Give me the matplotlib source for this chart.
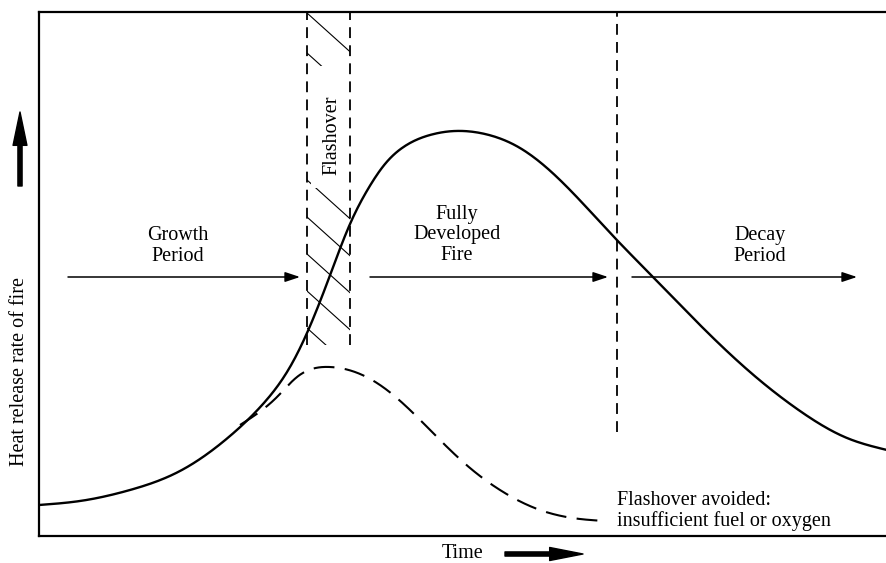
import numpy as np
import matplotlib
matplotlib.use("Agg")
import matplotlib.pyplot as plt

plt.rcParams['font.family'] = ['Liberation Serif', 'DejaVu Serif']

# ---- data (time units, heat-release units) ----
main_t = [0, 41, 91, 141, 191, 224, 251, 268, 290, 311, 329, 346, 366, 391,
          416, 446, 481, 521, 575, 614, 661, 711, 761, 808, 848]
main_h = [31, 35, 46, 65, 100, 132, 169, 203, 258, 312, 347, 372, 390, 401,
          405, 402, 388, 356, 299, 259, 211, 164, 125, 98, 86]

avoid_t = [201, 238, 258, 291, 316, 341, 371, 401, 431, 461, 501, 541, 566]
avoid_h = [111, 139, 159, 169, 164, 151, 126, 96, 68, 46, 26, 17, 15]

flash_start, flash_end, flash_bottom = 268, 311, 191
decay_start, decay_bottom = 578, 104
hatch_starts = [523, 483, 356, 319, 282, 245, 208]  # h at left edge of band
hatch_slope = -0.9
label_gap = (348, 470)  # band section kept clear for the "Flashover" label

phase_labels = ["Growth\nPeriod", "Fully\nDeveloped\nFire", "Decay\nPeriod"]
phase_label_t = [139, 418, 721]
phase_label_h = [290, 301, 290]
phase_arrows = [(29, 261), (331, 569), (593, 818)]
arrow_h = 259

T_MAX, H_MAX = 848, 524


def spline(x, y, n=600):
    x = np.asarray(x, float)
    y = np.asarray(y, float)
    m = len(x)
    h = np.diff(x)
    A = np.zeros((m, m))
    b = np.zeros(m)
    A[0, 0] = A[-1, -1] = 1
    for i in range(1, m - 1):
        A[i, i - 1] = h[i - 1]
        A[i, i] = 2 * (h[i - 1] + h[i])
        A[i, i + 1] = h[i]
        b[i] = 3 * ((y[i + 1] - y[i]) / h[i] - (y[i] - y[i - 1]) / h[i - 1])
    c = np.linalg.solve(A, b)
    xs = np.linspace(x[0], x[-1], n)
    idx = np.clip(np.searchsorted(x, xs) - 1, 0, m - 2)
    dx = xs - x[idx]
    bc = (y[1:] - y[:-1]) / h - h * (2 * c[:-1] + c[1:]) / 3
    d = (c[1:] - c[:-1]) / (3 * h)
    ys = y[idx] + bc[idx] * dx + c[idx] * dx ** 2 + d[idx] * dx ** 3
    return xs, ys


fig = plt.figure(figsize=(8.87, 5.63), dpi=100)
ax = fig.add_axes([39 / 887, 27 / 563, 848 / 887, 524 / 563])
ax.set_xlim(0, T_MAX)
ax.set_ylim(0, H_MAX)
ax.set_xticks([])
ax.set_yticks([])
ax.spines['right'].set_visible(False)
for s in ['left', 'bottom', 'top']:
    ax.spines[s].set_linewidth(1.6)

FS = 14.5

# hatch lines in flashover band
rect = plt.Rectangle((flash_start, flash_bottom), flash_end - flash_start,
                     H_MAX - flash_bottom, transform=ax.transData)
for h0 in hatch_starts:
    xs = np.array([flash_start, flash_end])
    ys = h0 + hatch_slope * (xs - flash_start)
    ln, = ax.plot(xs, ys, color='black', lw=0.8, zorder=1)
    ln.set_clip_path(rect)

# clear area for the flashover label
ax.add_patch(plt.Rectangle((flash_start + 4, label_gap[0]), flash_end - flash_start - 4,
                           label_gap[1] - label_gap[0], facecolor='white',
                           edgecolor='none', zorder=2))
ax.text((flash_start + flash_end) / 2 + 3, 401, "Flashover", rotation=90,
        ha='center', va='center', fontsize=FS, zorder=2.5)

# vertical dashed lines
for t, hb in [(flash_start, flash_bottom), (flash_end, flash_bottom), (decay_start, decay_bottom)]:
    ax.plot([t, t], [hb, H_MAX], color='black', lw=1.3, ls=(0, (6, 4)), zorder=3)

# curves
mx, my = spline(main_t, main_h)
ax.plot(mx, my, color='black', lw=1.7, zorder=4)
dx_, dy_ = spline(avoid_t, avoid_h)
ax.plot(dx_, dy_, color='black', lw=1.5, ls=(0, (10, 5)), zorder=4)

# phase arrows & labels
for (t0, t1) in phase_arrows:
    ax.annotate('', xy=(t1, arrow_h), xytext=(t0, arrow_h),
                arrowprops=dict(arrowstyle='-|>,head_length=0.9,head_width=0.3',
                                color='black', lw=1.1, shrinkA=0, shrinkB=0), zorder=5)
for lab, t, h in zip(phase_labels, phase_label_t, phase_label_h):
    ax.text(t, h, lab, ha='center', va='center', fontsize=FS, linespacing=1.08, zorder=5)

ax.text(578, 25, "Flashover avoided:\ninsufficient fuel or oxygen", ha='left', va='center',
        fontsize=FS, linespacing=1.05, zorder=5)

# axis labels with thick arrows
fig.text(20 / 887, (563 - 372) / 563, "Heat release rate of fire", rotation=90,
         ha='center', va='center', fontsize=FS)
fig.text(463 / 887, 10 / 563, "Time", ha='center', va='center', fontsize=FS)

ax.annotate('', xy=(20, 563 - 112), xytext=(20, 563 - 186), xycoords='figure pixels',
            textcoords='figure pixels', annotation_clip=False,
            arrowprops=dict(arrowstyle='simple,head_length=1.2,head_width=0.5,tail_width=0.15',
                            color='black', mutation_scale=20, shrinkA=0, shrinkB=0))
ax.annotate('', xy=(583, 9), xytext=(505, 9), xycoords='figure pixels',
            textcoords='figure pixels', annotation_clip=False,
            arrowprops=dict(arrowstyle='simple,head_length=1.2,head_width=0.47,tail_width=0.15',
                            color='black', mutation_scale=20, shrinkA=0, shrinkB=0))

fig.savefig("out.png", dpi=100)
